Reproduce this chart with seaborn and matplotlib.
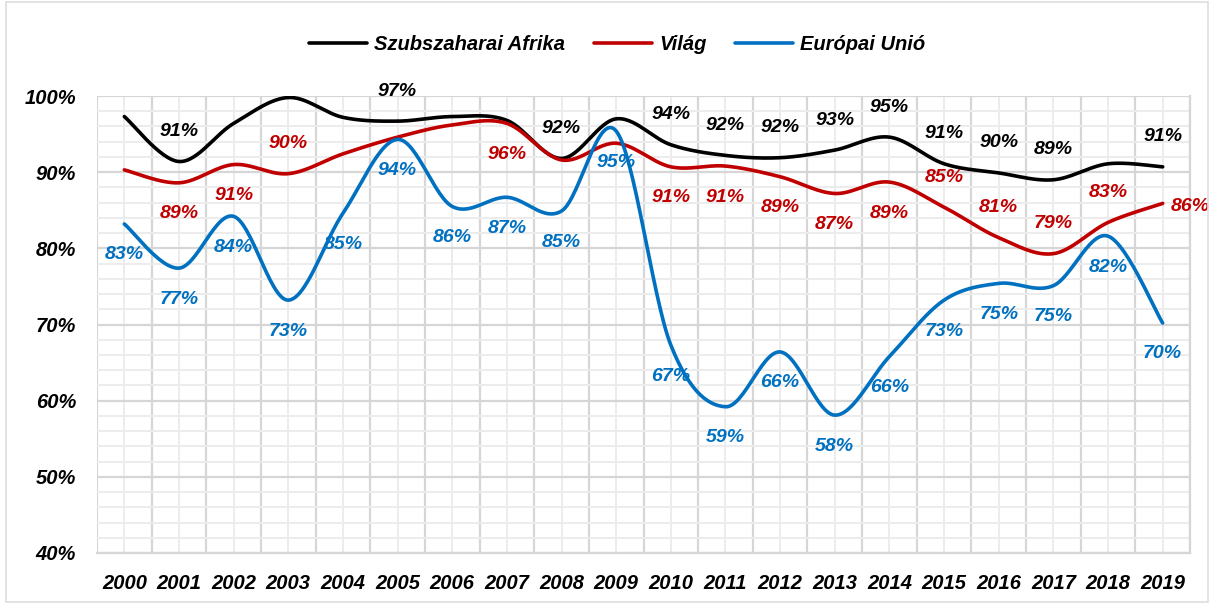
import numpy as np
import matplotlib
matplotlib.use("Agg")
import matplotlib.pyplot as plt
import seaborn as sns
import pandas as pd
from matplotlib.ticker import FixedLocator, FuncFormatter
from matplotlib.patches import Rectangle

years = [str(y) for y in range(2000, 2020)]
afrika = [97.3, 91.4, 96.4, 99.8, 97.2, 96.7, 97.3, 96.8, 91.8, 97.0,
          93.6, 92.2, 91.9, 92.9, 94.6, 91.1, 89.9, 89.0, 91.1, 90.7]
vilag = [90.3, 88.6, 91.0, 89.8, 92.4, 94.6, 96.2, 96.4, 91.6, 93.8,
         90.7, 90.8, 89.4, 87.2, 88.7, 85.4, 81.4, 79.3, 83.4, 85.9]
eu = [83.2, 77.4, 84.2, 73.2, 84.6, 94.3, 85.5, 86.7, 84.9, 95.4,
      67.3, 59.2, 66.4, 58.1, 65.8, 73.2, 75.4, 75.1, 81.6, 70.2]
series_names = ["Szubszaharai Afrika", "Világ", "Európai Unió"]
colors = ["#000000", "#C00000", "#0070C0"]
# label placement per point: 'a' above, 'b' below, 'r' right, '' none
afrika_lbl = ['', 'a', '', '', '', 'a', '', '', 'a', '', 'a', 'a', 'a', 'a', 'a', 'a', 'a', 'a', '', 'a']
vilag_lbl = ['', 'b', 'b', 'a', '', '', '', 'b', '', '', 'b', 'b', 'b', 'b', 'b', 'a', 'a', 'a', 'a', 'r']
eu_lbl = ['b'] * 20
yticks = [40, 50, 60, 70, 80, 90, 100]


def catmull_rom(x, y, n=30):
    x = np.asarray(x, float)
    y = np.asarray(y, float)
    px = np.concatenate([[x[0]], x, [x[-1]]])
    py = np.concatenate([[y[0]], y, [y[-1]]])
    xs, ys = [], []
    for i in range(1, len(px) - 2):
        p0, p1, p2, p3 = (np.array([px[j], py[j]]) for j in (i - 1, i, i + 1, i + 2))
        c1 = p1 + (p2 - p0) / 6.0
        c2 = p2 - (p3 - p1) / 6.0
        t = np.linspace(0, 1, n, endpoint=(i == len(px) - 3))[:, None]
        b = ((1 - t) ** 3) * p1 + 3 * ((1 - t) ** 2) * t * c1 + 3 * (1 - t) * t ** 2 * c2 + t ** 3 * p2
        xs.append(b[:, 0])
        ys.append(b[:, 1])
    return np.concatenate(xs), np.concatenate(ys)


sns.set_theme(style="white")
plt.rcParams['font.family'] = ['Liberation Sans', 'DejaVu Sans']
plt.rcParams['font.weight'] = 'bold'
plt.rcParams['font.style'] = 'italic'
plt.rcParams['text.color'] = 'black'

fig = plt.figure(figsize=(12.14, 6.07), dpi=100)
ax = fig.add_axes([97 / 1214, 1 - 553 / 607, (1190 - 97) / 1214, (553 - 96) / 607])

xpos = np.arange(len(years))
all_vals = [afrika, vilag, eu]
all_lbls = [afrika_lbl, vilag_lbl, eu_lbl]

# grid
for k in range(len(years) + 1):
    ax.axvline(k - 0.5, color="#d6d6d6", lw=1.6, zorder=0)
for k in range(len(years)):
    ax.axvline(k, color="#ececec", lw=1.4, zorder=0)
for v in np.arange(40, 101, 2):
    if v % 10 == 0:
        ax.axhline(v, color="#d6d6d6", lw=1.6, zorder=0)
    else:
        ax.axhline(v, color="#ececec", lw=1.4, zorder=0)

for name, vals, col in zip(series_names, all_vals, colors):
    sx, sy = catmull_rom(xpos, vals)
    df = pd.DataFrame({"x": sx, "y": sy})
    sns.lineplot(data=df, x="x", y="y", ax=ax, color=col, lw=2.6, label=name,
                 sort=False, estimator=None, zorder=3)

for vals, lbls, col in zip(all_vals, all_lbls, colors):
    for i, (v, l) in enumerate(zip(vals, lbls)):
        if not l:
            continue
        if l == 'a':
            off, ha, va = (0, 30), 'center', 'center'
        elif l == 'b':
            off, ha, va = (0, -31), 'center', 'center'
        else:
            off, ha, va = (8, -3), 'left', 'center'
        ax.annotate(f"{v:.0f}%", (i, v), xytext=off, textcoords='offset pixels',
                    ha=ha, va=va, color=col, fontsize=14, fontweight='bold',
                    fontstyle='italic', zorder=4, annotation_clip=False)

ax.set_xlim(-0.5, len(years) - 0.5)
ax.set_ylim(40, 100)
ax.set_xticks(xpos)
ax.set_xticklabels(years)
ax.yaxis.set_major_locator(FixedLocator(yticks))
ax.yaxis.set_major_formatter(FuncFormatter(lambda v, p: f"{v:.0f}%"))
ax.tick_params(axis='both', length=0, labelsize=14.5, colors="#000000")
ax.tick_params(axis='x', pad=15)
ax.tick_params(axis='y', pad=15)
for lab in ax.get_xticklabels() + ax.get_yticklabels():
    lab.set_fontweight('bold')
    lab.set_fontstyle('italic')
ax.set_xlabel("")
ax.set_ylabel("")
for s in ["top", "left"]:
    ax.spines[s].set_visible(False)
for s in ["right", "bottom"]:
    ax.spines[s].set_color("#d6d6d6")
    ax.spines[s].set_linewidth(1.6)

ax.get_legend().remove()
handles, labels = ax.get_legend_handles_labels()
fig.legend(handles, labels, loc='center', bbox_to_anchor=(617 / 1214, 1 - 45 / 607), ncol=3,
           frameon=False, handlelength=2.9, columnspacing=1.4, handletextpad=0.35,
           labelcolor='black',
           prop={'weight': 'bold', 'style': 'italic', 'size': 14.5})

fig.patches.append(Rectangle((6 / 1214, 5 / 607), 1202 / 1214, 600 / 607, transform=fig.transFigure,
                             fill=False, edgecolor="#dedede", lw=1.2))

fig.savefig("out.png", dpi=100, facecolor="white")
